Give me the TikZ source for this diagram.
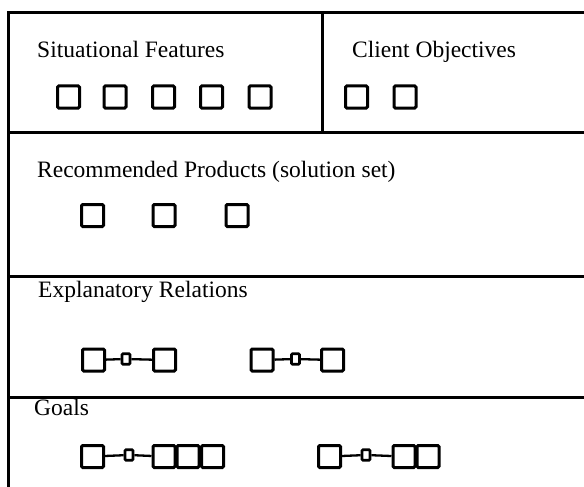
\documentclass[tikz,border=0pt]{standalone}
\usepackage{fontspec}
\setmainfont{Liberation Serif}
\begin{document}
\begin{tikzpicture}[x=1pt,y=-1pt,
  frame/.style={line width=3pt},
  lbl/.style={anchor=base west,inner sep=0pt,font=\fontsize{23.5}{28}\selectfont},
  sq/.style={draw,line width=3pt,minimum size=22pt,inner sep=0pt,rounded corners=1.2pt},
  sm/.style={draw,line width=2.6pt,minimum width=8pt,minimum height=10.5pt,inner sep=0pt,rounded corners=1pt},
  link/.style={line width=2.3pt}]
\useasboundingbox (0,0) rectangle (584,487);
% frame
\draw[frame] (584,13) -- (8,13) -- (8,487);
\draw[frame] (8,132) -- (584,132);
\draw[frame] (8,276) -- (584,276);
\draw[frame] (8,397) -- (584,397);
\draw[frame] (322,13) -- (322,132);
% labels
\node[lbl] (sf) at (37,58) {Situational Features};
\node[lbl] (co) at (352,58) {Client Objectives};
\node[lbl] (rp) at (37,177) {Recommended Products (solution set)};
\node[lbl] (er) at (38,297) {Explanatory Relations};
\node[lbl] (go) at (34,415) {Goals};
% situational features
\foreach \i/\x in {1/68.5,2/115,3/163.5,4/211.5,5/260}
  \node[sq] (s\i) at (\x,97) {};
% client objectives
\foreach \i/\x in {1/356.5,2/405}
  \node[sq] (c\i) at (\x,97) {};
% recommended products
\foreach \i/\x in {1/92.5,2/164,3/237}
  \node[sq] (r\i) at (\x,215.5) {};
% explanatory relations
\node[sq] (ea1) at (93.5,360) {};
\node[sm] (es1) at (126,359) {};
\node[sq] (eb1) at (164.5,360) {};
\draw[link] (ea1) -- (es1);
\draw[link] (es1) -- (eb1);
\node[sq] (ea2) at (262,360) {};
\node[sm] (es2) at (295.5,359) {};
\node[sq] (eb2) at (332.5,360) {};
\draw[link] (ea2) -- (es2);
\draw[link] (es2) -- (eb2);
% goals
\node[sq] (ga1) at (92.5,456.5) {};
\node[sm] (gs1) at (129,455) {};
\node[sq] (gb1) at (164,456.5) {};
\node[sq] (gc1) at (188,456.5) {};
\node[sq] (gd1) at (212.5,456.5) {};
\draw[link] (ga1) -- (gs1);
\draw[link] (gs1) -- (gb1);
\node[sq] (ga2) at (329.5,456.5) {};
\node[sm] (gs2) at (366,455) {};
\node[sq] (gb2) at (404,456.5) {};
\node[sq] (gc2) at (428,456.5) {};
\draw[link] (ga2) -- (gs2);
\draw[link] (gs2) -- (gb2);
\end{tikzpicture}
\end{document}
